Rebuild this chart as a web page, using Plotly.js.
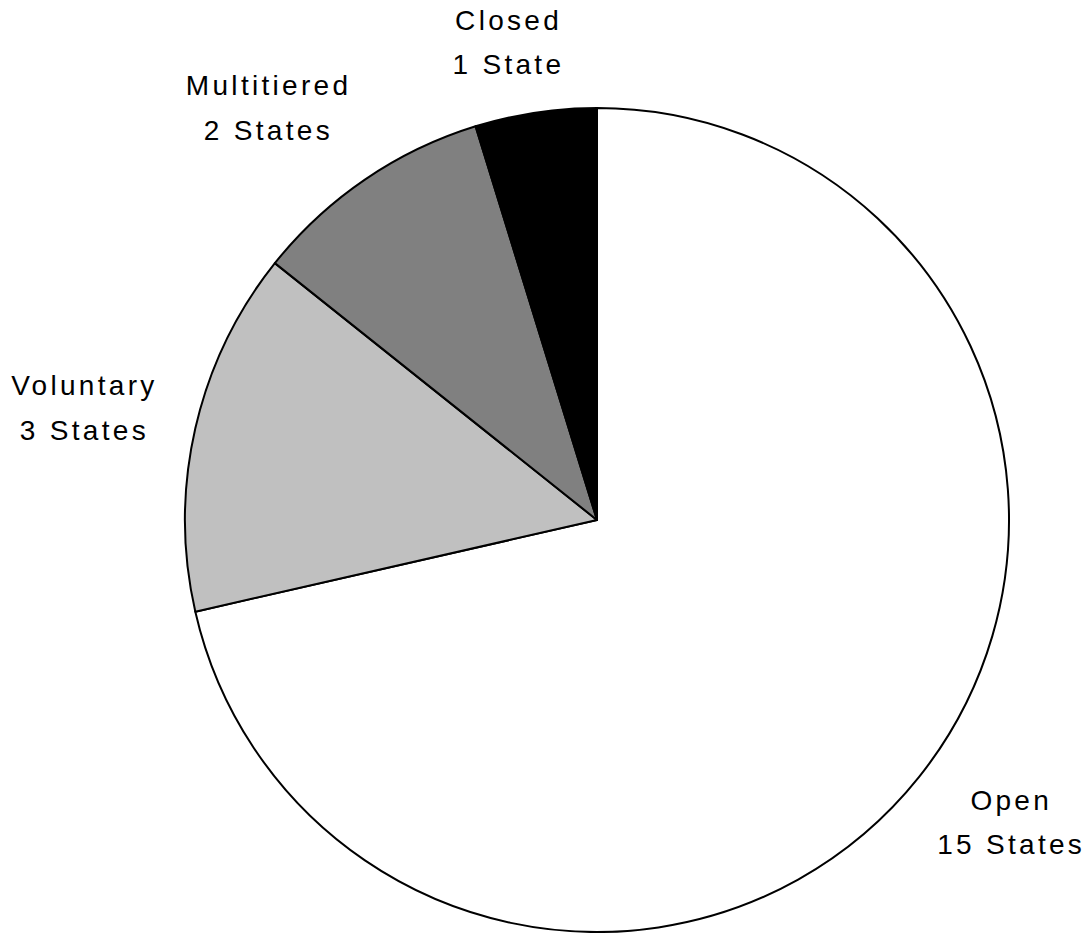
<!DOCTYPE html>
<html>
<head>
<meta charset="utf-8">
<script src="https://cdn.plot.ly/plotly-3.0.1.min.js"></script>
<style>
html,body{margin:0;padding:0;background:#fff;}
#chart{width:1087px;height:933px;}
#chart .annotation-text{letter-spacing:3.3px;}
</style>
</head>
<body>
<div id="chart"></div>
<script>
const categories = ["Open", "Voluntary", "Multitiered", "Closed"];
const stateCounts = [15, 3, 2, 1];
const sliceColors = ["#ffffff", "#c0c0c0", "#808080", "#000000"];
const countLabels = stateCounts.map(v => v + (v === 1 ? " State" : " States"));

// label block centres in page pixels (layout only)
const labelCentersPx = [[1009, 822], [82, 408], [266, 108], [506, 42]];
const lineGapPx = 44;

const W = 1087, H = 933;
const margin = {l: 185, r: 78, t: 108, b: 1};
const plotW = W - margin.l - margin.r, plotH = H - margin.t - margin.b;
const toPaperX = px => (px - margin.l) / plotW;
const toPaperY = py => (H - margin.b - py) / plotH;

const labelFont = {family: "Liberation Sans, Arial, sans-serif", size: 28, color: "#000000"};
const annotations = [];
categories.forEach((c, i) => {
  const [cx, cy] = labelCentersPx[i];
  [[c, cy - lineGapPx / 2], [countLabels[i], cy + lineGapPx / 2]].forEach(([t, y]) => {
    annotations.push({
      text: t, xref: "paper", yref: "paper",
      x: toPaperX(cx + 2), y: toPaperY(y),
      xanchor: "center", yanchor: "middle",
      showarrow: false, font: labelFont
    });
  });
});

const trace = {
  type: "pie",
  labels: categories,
  values: stateCounts,
  textinfo: "none",
  sort: false,
  direction: "clockwise",
  rotation: 0,
  hoverinfo: "none",
  marker: {colors: sliceColors, line: {color: "#000000", width: 2}},
  showlegend: false
};

const layout = {
  width: W,
  height: H,
  margin: margin,
  paper_bgcolor: "#ffffff",
  plot_bgcolor: "#ffffff",
  showlegend: false,
  annotations: annotations
};

Plotly.newPlot("chart", [trace], layout, {displayModeBar: false, staticPlot: true});
</script>
</body>
</html>
